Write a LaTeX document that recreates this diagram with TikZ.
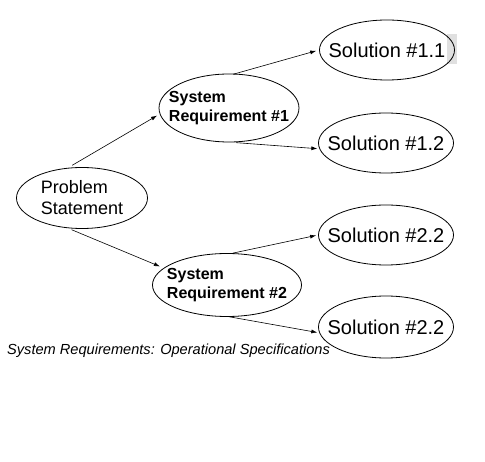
\documentclass[tikz,border=0pt]{standalone}
\usepackage{fontspec}
\setmainfont{Liberation Sans}
\usetikzlibrary{arrows.meta, positioning, shapes.geometric}

\begin{document}
\begin{tikzpicture}[
  x=1pt, y=-1pt,
  oval/.style={draw, ellipse, line width=0.8pt, inner xsep=-15pt, inner ysep=0pt, align=left},
  sol/.style={oval, minimum width=135pt, minimum height=60pt, font=\fontsize{20}{24}\selectfont},
  req/.style={oval, font=\fontsize{16}{19}\selectfont\bfseries},
  arrow/.style={-{Latex[length=6pt,width=4pt]}, line width=0.6pt}
]
\useasboundingbox (0,0) rectangle (485,462);
% scan mark
\fill[black!12] (447,34) rectangle (457,64);

% Nodes
\node[oval, minimum width=131pt, minimum height=61pt, font=\fontsize{18}{21}\selectfont] (ps) at (82,198) {Problem\\Statement};
\node[req, minimum width=140pt, minimum height=68pt] (sr1) at (229,108) {System\\Requirement \#1};
\node[req, minimum width=149pt, minimum height=63pt] (sr2) at (227,285) {System\\Requirement \#2};
\node[sol] (s11) at (387,50) {Solution \#1.1};
\node[sol] (s12) at (386,143) {Solution \#1.2};
\node[sol] (s21) at (386,235) {Solution \#2.2};
\node[sol, minimum height=62pt] (s22) at (386,327) {Solution \#2.2};
\node[anchor=west, inner sep=0pt, font=\fontsize{14.6}{17}\selectfont\itshape] (cap) at (7,351) {System Requirements: Operational Specifications};
% Pointers
\draw[arrow, shorten <=5pt, shorten >=3pt] (ps.115) -- (sr1.185);
\draw[arrow, shorten <=4pt, shorten >=4pt] (ps.245) -- (sr2.165);
\draw[arrow, shorten <=-2pt, shorten >=3pt] (sr1.80) -- (s11.west);
\draw[arrow, shorten <=4pt, shorten >=2pt] (sr1.275) -- (s12.185);
\draw[arrow, shorten >=2pt] (sr2.80) -- (s21.west);
\draw[arrow, shorten <=-1pt, shorten >=2pt] (sr2.275) -- (s22.185);
\end{tikzpicture}
\end{document}
